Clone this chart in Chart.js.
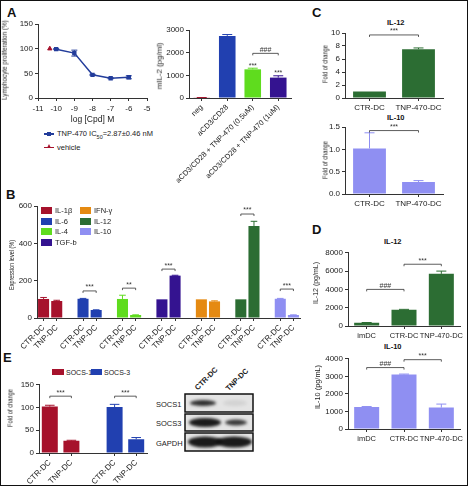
<!DOCTYPE html>
<html>
<head>
<meta charset="utf-8">
<script src="https://cdn.jsdelivr.net/npm/chart.js@4.4.0/dist/chart.umd.min.js"></script>
<style>
html, body { margin: 0; padding: 0; background: #fff; }
#fig { position: relative; width: 469px; height: 487px; overflow: hidden; font-family: "Liberation Sans", Arial, sans-serif; color: #222; }
.box { position: absolute; }
.lbl { position: absolute; font-size: 8px; line-height: 1; white-space: nowrap; }
.panel { position: absolute; font-size: 13px; font-weight: bold; line-height: 1; color: #111; }
.ttl { position: absolute; font-size: 7.5px; font-weight: bold; line-height: 1; color: #111; }
.sw { position: absolute; }
#frame { position: absolute; left: 0; top: 0; width: 468px; height: 486px; border: 1.5px solid #111; box-sizing: border-box; pointer-events: none; }
</style>
</head>
<body>
<div id="fig">
  <div class="panel" style="left:7px;top:6px">A</div>
  <div class="panel" style="left:6px;top:188px">B</div>
  <div class="panel" style="left:312px;top:6px">C</div>
  <div class="panel" style="left:312px;top:223px">D</div>
  <div class="panel" style="left:3px;top:351px">E</div>

  <div class="ttl" style="left:387px;top:19px">IL-12</div>
  <div class="ttl" style="left:387px;top:114px">IL-10</div>
  <div class="ttl" style="left:384px;top:238px">IL-12</div>
  <div class="ttl" style="left:384px;top:343px">IL-10</div>

  <!-- legend A -->
  <div class="sw" style="left:44px;top:133px;width:10px;height:1.5px;background:#233d9b"></div>
  <div class="sw" style="left:47px;top:131.5px;width:4px;height:4px;background:#233d9b"></div>
  <div class="lbl" style="left:57px;top:130px;font-size:7.5px">TNP-470 IC<sub style="font-size:5.5px">50</sub>=2.87±0.46 nM</div>
  <div class="sw" style="left:44px;top:146.5px;width:10px;height:1.5px;background:#a6122c"></div>
  <div class="sw" style="left:46.5px;top:143.5px;width:0;height:0;border-left:2.5px solid transparent;border-right:2.5px solid transparent;border-bottom:4.5px solid #a6122c"></div>
  <div class="lbl" style="left:57px;top:143.5px;font-size:7.5px">vehicle</div>

  <!-- legend E -->
  <div class="sw" style="left:52px;top:369px;width:12px;height:6px;background:#a6122c"></div>
  <div class="lbl" style="left:66px;top:368.5px;font-size:7px">SOCS-1</div>
  <div class="sw" style="left:91px;top:369px;width:11px;height:6px;background:#2140b0"></div>
  <div class="lbl" style="left:104px;top:368.5px;font-size:7px">SOCS-3</div>

  <!-- blot labels -->
  <div class="lbl" style="left:156px;top:400.5px;font-size:7.5px">SOCS1</div>
  <div class="lbl" style="left:156px;top:420px;font-size:7.5px">SOCS3</div>
  <div class="lbl" style="left:156px;top:439.5px;font-size:7.5px">GAPDH</div>
  <div class="lbl" style="left:192px;top:375px;font-weight:bold;font-size:7.5px;transform:rotate(-45deg)">CTR-DC</div>
  <div class="lbl" style="left:223px;top:376px;font-weight:bold;font-size:7.5px;transform:rotate(-45deg)">TNP-DC</div>

  <div id="frame"></div>
</div>
<script>
// ---- A: lymphocyte proliferation ----
const logDose = [-10, -9, -8, -7, -6];
const prolif = [99, 91, 47, 40, 42];
const prolifErr = [1, 6, 1, 1, 3];
const vehicleDose = [-10.35];
const vehicleProlif = [100];

// ---- A: mIL-2 ----
const il2Labels = ['neg', 'aCD3/CD28', 'aCD3/CD28 + TNP-470 (0.5uM)', 'aCD3/CD28 + TNP-470 (1uM)'];
const il2Values = [15, 2740, 1265, 900];
const il2Err = [5, 60, 50, 80];

// ---- B: expression level ----
const bCytokines = ['IL-1β', 'IL-6', 'IL-4', 'TGF-b', 'IFN-γ', 'IL-12', 'IL-10'];
const bCtr = [102, 103, 102, 100, 100, 100, 103];
const bCtrErr = [8, 2, 20, 0, 0, 0, 2];
const bTnp = [91, 43, 16, 227, 89, 493, 16];
const bTnpErr = [4, 1, 1, 2, 3, 25, 1];

// ---- C: fold of change ----
const cLabels = ['CTR-DC', 'TNP-470-DC'];
const cIl12 = [1.0, 7.5];
const cIl12Err = [0, 0.2];
const cIl10 = [1.02, 0.27];
const cIl10Err = [0.35, 0.03];

// ---- D: pg/mL ----
const dLabels = ['imDC', 'CTR-DC', 'TNP-470-DC'];
const dIl12 = [350, 1780, 5700];
const dIl12Err = [30, 40, 300];
const dIl10 = [1260, 3100, 1220];
const dIl10Err = [20, 30, 200];

// ---- E: SOCS ----
const eGenes = ['SOCS-1', 'SOCS-3'];
const eCtr = [102, 101];
const eCtrErr = [3, 6];
const eTnp = [27, 30];
const eTnpErr = [1, 4];

const RED = '#a6122c', BLUE = '#2140b0', GREEN = '#5fdc1e', INDIGO = '#341390',
      ORANGE = '#e58a12', DGREEN = '#2c6d33', LAV = '#8f8ff2', LINE = '#233d9b';
const bColors = [RED, BLUE, GREEN, INDIGO, ORANGE, DGREEN, LAV];

const FONT = '"Liberation Sans", Arial, sans-serif';
Chart.defaults.font.family = FONT;
Chart.defaults.font.size = 8;
Chart.defaults.color = '#222';
Chart.defaults.animation = false;
Chart.defaults.plugins.legend.display = false;
Chart.defaults.plugins.tooltip.enabled = false;

// error bars, brackets, stars over bars
const annot = {
  id: 'annot',
  afterDatasetsDraw(chart, args, opts) {
    const ctx = chart.ctx, xs = chart.scales.x, ys = chart.scales.y;
    const valOf = (ds, i) => { const r = ds.data[i]; return r && typeof r === 'object' ? r.y : r; };
    ctx.save();
    (opts.err || []).forEach((errs, di) => {
      if (!errs) return;
      const ds = chart.data.datasets[di];
      chart.getDatasetMeta(di).data.forEach((el, i) => {
        const v = valOf(ds, i), e = errs[i];
        if (v == null || !e) return;
        const col = Array.isArray(ds.backgroundColor) ? ds.backgroundColor[i] : ds.backgroundColor;
        const top = ys.getPixelForValue(v + e);
        const bot = ys.getPixelForValue(opts.both ? v - e : v);
        const half = el.width ? Math.min(el.width * 0.3, 5) : 3;
        ctx.strokeStyle = col; ctx.lineWidth = 1;
        ctx.beginPath();
        ctx.moveTo(el.x, bot); ctx.lineTo(el.x, top);
        ctx.moveTo(el.x - half, top); ctx.lineTo(el.x + half, top);
        if (opts.both) { ctx.moveTo(el.x - half, bot); ctx.lineTo(el.x + half, bot); }
        ctx.stroke();
      });
    });
    ctx.fillStyle = '#333'; ctx.strokeStyle = '#333';
    ctx.font = '7px ' + FONT; ctx.textAlign = 'center'; ctx.textBaseline = 'bottom';
    (opts.brackets || []).forEach(br => {
      const xa = xs.getPixelForValue(br.a), xb = xs.getPixelForValue(br.b), y = ys.getPixelForValue(br.v);
      ctx.lineWidth = 0.8;
      ctx.beginPath();
      ctx.moveTo(xa, y + 2); ctx.lineTo(xa, y); ctx.lineTo(xb, y); ctx.lineTo(xb, y + 2);
      ctx.stroke();
      ctx.fillText(br.t, (xa + xb) / 2, y);
    });
    (opts.stars || []).forEach(s => {
      const ds = chart.data.datasets[0];
      const e = opts.err && opts.err[0] ? opts.err[0][s.i] : 0;
      const y = ys.getPixelForValue(valOf(ds, s.i) + e) - 1;
      ctx.fillText(s.t, xs.getPixelForValue(s.i), y + 2);
    });
    ctx.restore();
  }
};
Chart.register(annot);

const fig = document.getElementById('fig');
const frame = document.getElementById('frame');

function addText(x, y, text, style) {
  const d = document.createElement('div');
  d.className = 'lbl';
  d.textContent = text;
  Object.assign(d.style, style || {});
  d.style.left = x + 'px'; d.style.top = y + 'px';
  fig.insertBefore(d, frame);
  return d;
}
// condensed vertical axis title centred at (cx, cy), squeezed to len px
function yTitle(cx, cy, len, text) {
  const d = addText(0, 0, text, { fontSize: '8px' });
  const w = d.offsetWidth, h = d.offsetHeight;
  d.style.left = (cx - w / 2) + 'px';
  d.style.top = (cy - h / 2) + 'px';
  d.style.transformOrigin = 'center';
  d.style.transform = 'rotate(-90deg) scaleX(' + (len / w).toFixed(3) + ')';
}

function yAxis(min, max, step, fmt) {
  return {
    type: 'linear', min: min, max: max,
    ticks: { stepSize: step, padding: 2, callback: fmt || (v => v) },
    grid: { drawOnChartArea: false, tickLength: 3, color: '#333' },
    border: { color: '#333' }
  };
}
function xCat(rot, size) {
  return {
    type: 'category', offset: true,
    ticks: { autoSkip: false, maxRotation: rot, minRotation: rot, padding: 2, font: { size: size || 8 } },
    grid: {
      offset: false, drawOnChartArea: false, tickLength: 3,
      color: c => (c.chart.data.labels[c.index] === '' ? 'rgba(0,0,0,0)' : '#333')
    },
    border: { color: '#333' }
  };
}

function makeChart(box, plot, config) {
  const d = document.createElement('div');
  d.className = 'box';
  d.style.left = box[0] + 'px'; d.style.top = box[1] + 'px';
  d.style.width = (box[2] - box[0]) + 'px'; d.style.height = (box[3] - box[1]) + 'px';
  const cv = document.createElement('canvas');
  d.appendChild(cv);
  fig.insertBefore(d, frame);
  const o = config.options;
  o.responsive = true; o.maintainAspectRatio = false;
  o.layout = { padding: { left: 0, top: plot[1] - box[1], right: box[2] - plot[2], bottom: 0 } };
  o.scales.x.afterFit = s => { s.height = box[3] - plot[3]; };
  o.scales.y.afterFit = s => { s.width = plot[0] - box[0]; };
  return new Chart(cv, config);
}

function barChart(box, plot, labels, values, colors, errs, y, x, pct, annExtra) {
  return makeChart(box, plot, {
    type: 'bar',
    data: { labels: labels, datasets: [{ data: values, backgroundColor: colors, barPercentage: pct, categoryPercentage: 1 }] },
    options: {
      scales: { x: x, y: y },
      plugins: { annot: Object.assign({ err: [errs] }, annExtra || {}) }
    }
  });
}

// A - line chart
const xLine = {
  type: 'linear', min: -11, max: -5,
  ticks: { stepSize: 1, padding: 3 },
  grid: { drawOnChartArea: false, tickLength: 3, color: '#333' },
  border: { color: '#333' },
  title: { display: true, text: 'log [Cpd] M', font: { size: 8.5 }, padding: { top: 1, bottom: 2 } }
};
makeChart([0, 16, 160, 127], [38, 24, 147, 98], {
  type: 'line',
  data: {
    datasets: [
      { data: logDose.map((x, i) => ({ x: x, y: prolif[i] })), borderColor: LINE, backgroundColor: LINE,
        borderWidth: 1.5, pointStyle: 'rect', pointRadius: 2, tension: 0 },
      { data: vehicleDose.map((x, i) => ({ x: x, y: vehicleProlif[i] })), borderColor: RED, backgroundColor: RED,
        showLine: false, pointStyle: 'triangle', pointRadius: 2.5 }
    ]
  },
  options: {
    scales: { x: xLine, y: yAxis(0, 150, 50) },
    plugins: { annot: { err: [prolifErr, null], both: true } }
  }
});
yTitle(5, 60, 80, 'Lymphocyte proliferation (%)');

// A - mIL-2 bars
barChart([156, 22, 300, 186], [189, 30, 291, 98], il2Labels, il2Values, [RED, BLUE, GREEN, INDIGO], il2Err,
  yAxis(0, 3000, 1000), xCat(45, 7.5), 0.65,
  { brackets: [{ a: 2, b: 3, v: 1970, t: '###' }], stars: [{ i: 2, t: '***' }, { i: 3, t: '***' }] });
yTitle(160, 66, 47, 'mIL-2 (pg/ml)');

// B - grouped bars
const bLabels = [], bVals = [], bErrs = [], bCols = [];
bCytokines.forEach((c, g) => {
  if (g > 0) { bLabels.push(''); bVals.push(null); bErrs.push(0); bCols.push('rgba(0,0,0,0)'); }
  bLabels.push('CTR-DC'); bVals.push(bCtr[g]); bErrs.push(bCtrErr[g]); bCols.push(bColors[g]);
  bLabels.push('TNP-DC'); bVals.push(bTnp[g]); bErrs.push(bTnpErr[g]); bCols.push(bColors[g]);
});
barChart([8, 196, 312, 352], [37, 206, 300, 318], bLabels, bVals, bCols, bErrs,
  yAxis(0, 600, 200), xCat(45, 8), 0.84,
  { brackets: [
    { a: 3, b: 4, v: 145, t: '***' }, { a: 6, b: 7, v: 160, t: '**' }, { a: 9, b: 10, v: 262, t: '***' },
    { a: 15, b: 16, v: 557, t: '***' }, { a: 18, b: 19, v: 155, t: '***' }] });
yTitle(12, 265, 50, 'Expression level (%)');
// B legend: two columns
bCytokines.forEach((c, g) => {
  const col = g < 4 ? 0 : 1, row = g < 4 ? g : g - 4;
  const x = col ? 80 : 41, y = 207 + row * 10.5;
  const sw = document.createElement('div');
  sw.className = 'sw';
  Object.assign(sw.style, { left: x + 'px', top: y + 'px', width: '11px', height: '7px', background: bColors[g] });
  fig.insertBefore(sw, frame);
  addText(x + 14, y, c, { fontSize: '7.5px' });
});

// C - fold of change
barChart([321, 26, 469, 114], [345, 33, 443, 98], cLabels, cIl12, DGREEN, cIl12Err,
  yAxis(0, 10, 2), xCat(0), 0.67,
  { brackets: [{ a: 0, b: 1, v: 9.7, t: '***' }] });
yTitle(325, 64, 38, 'Fold of change');
barChart([321, 120, 469, 212], [345, 127, 443, 194], cLabels, cIl10, LAV, cIl10Err,
  yAxis(0, 1.5, 0.5, v => v.toFixed(1)), xCat(0), 0.67,
  { brackets: [{ a: 0, b: 1, v: 1.42, t: '***' }] });
yTitle(325, 160, 38, 'Fold of change');

// D - pg/mL
barChart([310, 246, 469, 343], [348, 250, 460, 326], dLabels, dIl12, DGREEN, dIl12Err,
  yAxis(0, 8000, 2000), xCat(0, 7.5), 0.67,
  { brackets: [{ a: 0, b: 1, v: 4000, t: '###' }, { a: 1, b: 2, v: 6750, t: '***' }] });
yTitle(316, 283, 42, 'IL-12 (pg/mL)');
barChart([310, 352, 469, 446], [348, 356, 460, 429], dLabels, dIl10, LAV, dIl10Err,
  yAxis(0, 4000, 1000), xCat(0, 7.5), 0.67,
  { brackets: [{ a: 0, b: 1, v: 3500, t: '###' }, { a: 1, b: 2, v: 3950, t: '***' }] });
yTitle(318, 387, 44, 'IL-10 (pg/mL)');

// E - SOCS
const eLabels = ['CTR-DC', 'TNP-DC', '', 'CTR-DC', 'TNP-DC'];
const eVals = [eCtr[0], eTnp[0], null, eCtr[1], eTnp[1]];
const eErrs = [eCtrErr[0], eTnpErr[0], 0, eCtrErr[1], eTnpErr[1]];
barChart([6, 378, 160, 486], [39, 382, 147, 453], eLabels, eVals, [RED, RED, 'rgba(0,0,0,0)', BLUE, BLUE], eErrs,
  yAxis(0, 150, 50), xCat(45, 8), 0.74,
  { brackets: [{ a: 0, b: 1, v: 125, t: '***' }, { a: 3, b: 4, v: 125, t: '***' }] });
yTitle(10, 408, 38, 'Fold of change');

// western blot picture
(function () {
  const cv = document.createElement('canvas');
  cv.width = 74; cv.height = 62;
  cv.style.position = 'absolute'; cv.style.left = '183px'; cv.style.top = '392px';
  fig.insertBefore(cv, frame);
  const g = cv.getContext('2d');
  const rows = [[2, 20], [22, 39], [41, 59]];
  const bands = [
    [[20, 11, 13, 3, 0.85], [52, 11, 12, 3, 0.08]],
    [[22, 30.5, 16, 4.5, 0.95], [53, 30.5, 11, 3, 0.8]],
    [[22, 50, 17, 5.5, 0.95], [51, 50, 18, 5.5, 0.95]]
  ];
  rows.forEach((r, k) => {
    g.fillStyle = '#e4e4e4';
    g.fillRect(2, r[0], 68, r[1] - r[0]);
    g.save();
    g.beginPath(); g.rect(2, r[0], 68, r[1] - r[0]); g.clip();
    g.filter = 'blur(1.5px)';
    bands[k].forEach(b => {
      g.fillStyle = 'rgba(15,15,15,' + b[4] + ')';
      g.beginPath(); g.ellipse(b[0], b[1], b[2], b[3], 0, 0, Math.PI * 2); g.fill();
    });
    g.restore();
    g.strokeStyle = '#111'; g.lineWidth = 1.5;
    g.strokeRect(2, r[0], 68, r[1] - r[0]);
  });
})();
</script>
</body>
</html>
